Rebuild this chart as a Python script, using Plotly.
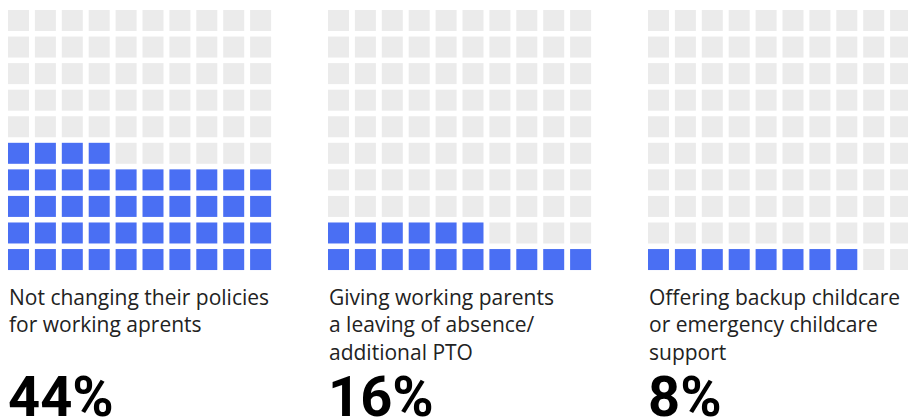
import plotly.graph_objects as go

labels = [
    ["Not changing their policies", "for working aprents"],
    ["Giving working parents", "a leaving of absence/", "additional PTO"],
    ["Offering backup childcare", "or emergency childcare", "support"],
]
percents = [44, 16, 8]
pct_text = ["44%", "16%", "8%"]

BLUE = "#4A6FF3"
GREY = "#EBEBEB"

W, H = 908, 419
px_pitch_x = 26.9
px_pitch_y = 26.56
grid_left = [8, 328, 648]
grid_top = 10
cell = 21
label_top = 281

fig = go.Figure()
for k, (lab, p) in enumerate(zip(labels, percents)):
    xs, ys, cols = [], [], []
    for idx in range(100):
        row = idx // 10  # from bottom
        col = idx % 10
        xs.append(col)
        ys.append(row)
        cols.append(BLUE if idx < p else GREY)
    ax = "" if k == 0 else str(k + 1)
    fig.add_trace(go.Scatter(
        x=xs, y=ys, mode="markers",
        marker=dict(symbol="square", size=cell, color=cols, line=dict(width=0)),
        xaxis="x" + ax, yaxis="y" + ax, hoverinfo="skip", showlegend=False,
        cliponaxis=False,
    ))
    d0 = grid_left[k] - (px_pitch_x / 2 - cell / 2)
    d1 = d0 + 10 * px_pitch_x
    r1 = 9.5
    if d1 > W:
        r1 = -0.5 + (W - d0) / px_pitch_x
        d1 = W
    top = grid_top - (px_pitch_y / 2 - cell / 2)
    bot = top + 10 * px_pitch_y
    fig.update_layout(**{
        "xaxis" + ax: dict(domain=[d0 / W, d1 / W], range=[-0.5, r1], visible=False, fixedrange=True),
        "yaxis" + ax: dict(domain=[1 - bot / H, 1 - top / H], range=[-0.5, 9.5], visible=False, fixedrange=True),
    })
    fig.add_annotation(
        x=(grid_left[k] - 1) / W, y=1 - label_top / H,
        xref="paper", yref="paper",
        xanchor="left", yanchor="top", align="left", showarrow=False,
        text="<br>".join(lab), font=dict(family="Open Sans", size=21, color="#222222"),
    )
    fig.add_annotation(
        x=(grid_left[k] - 2) / W, y=1 - 362 / H, xref="paper", yref="paper",
        xanchor="left", yanchor="top", align="left", showarrow=False,
        text="<b>" + pct_text[k] + "</b>", font=dict(family="Roboto", size=56, color="#000000"),
    )

fig.update_layout(
    width=W, height=H, margin=dict(l=0, r=0, t=0, b=0),
    paper_bgcolor="white", plot_bgcolor="white",
)
fig.write_html("out.html")
